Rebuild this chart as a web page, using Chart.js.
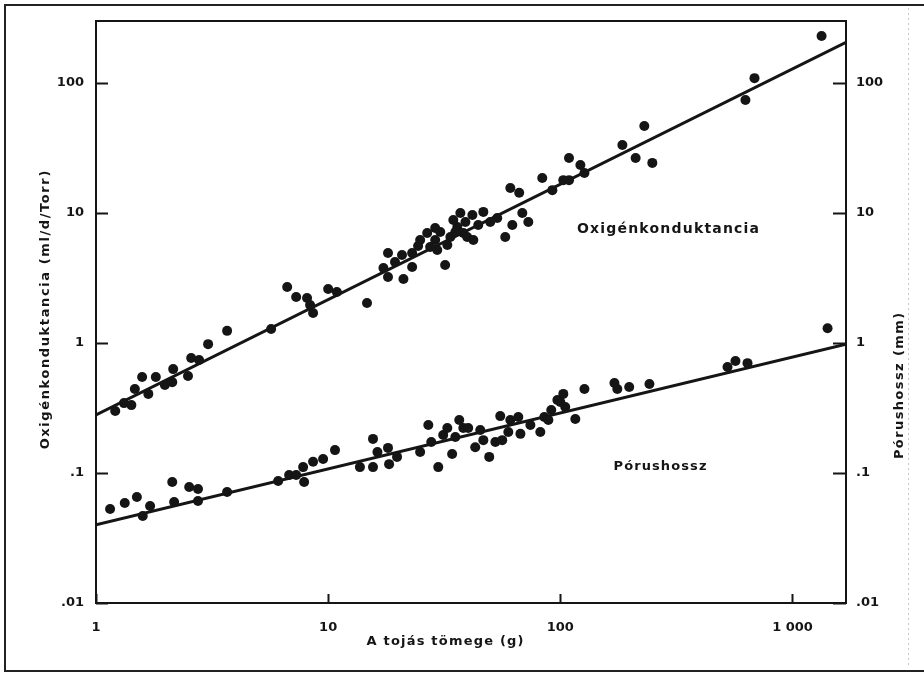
<!DOCTYPE html>
<html>
<head>
<meta charset="utf-8">
<script src="https://cdn.jsdelivr.net/npm/chart.js@4"></script>
<style>
  html, body { margin: 0; padding: 0; background: #fff; }
  canvas { display: block; }
</style>
</head>
<body>
<canvas id="c" width="924" height="674"></canvas>
<script>
// ---- tick labels ----
const xTickValues = [1, 10, 100, 1000];
const xTickLabels = ['1', '10', '100', '1 000'];
const yTickValues = [0.01, 0.1, 1, 10, 100];
const yTickLabels = ['.01', '.1', '1', '10', '100'];

// ---- Oxigénkonduktancia (ml/d/Torr) vs egg mass (g) ----
const oxygenMass = [1.21,1.32,1.42,1.47,1.58,1.68,1.81,1.98,2.13,2.15,2.49,2.57,2.78,3.04,3.67,5.68,6.66,7.28,8.11,8.61,8.36,10.0,10.9,14.7,17.3,18.1,18.1,20.8,21.1,23.0,23.0,26.7,27.5,29.5,30.4,31.9,33.6,36.0,37.1,38.2,39.7,41.8,42.2,46.6,53.5,57.9,60.9,62.1,66.5,68.6,72.8,83.6,92.4,103,109,109,122,127,185,211,230,249,627,686,1334,24.4,34.6,44.3,49.9,28.9,19.4,24.9,32.6,35.3,39.0,28.9];
const oxygenConductance = [0.30,0.345,0.333,0.443,0.547,0.406,0.547,0.475,0.50,0.63,0.557,0.767,0.74,0.98,1.24,1.28,2.70,2.26,2.22,1.70,1.96,2.60,2.47,2.03,3.78,4.92,3.22,4.75,3.11,4.92,3.84,7.02,5.47,5.19,7.14,3.98,6.53,7.80,10.0,7.02,6.53,9.66,6.20,10.2,9.16,6.53,15.6,8.09,14.3,10.0,8.53,18.6,15.0,17.9,26.5,17.9,23.4,20.3,33.4,26.5,46.7,24.3,74.0,109,230,5.57,8.83,8.09,8.53,6.2,4.2,6.2,5.68,7.14,8.53,7.67];

// ---- Pórushossz (mm) vs egg mass (g) ----
const poreMass = [1.15,1.33,1.50,1.59,1.71,2.13,2.17,2.52,2.75,2.75,3.67,6.09,6.79,7.28,7.80,7.88,8.61,9.51,10.7,13.7,15.6,15.6,16.3,18.1,18.3,19.8,24.9,27.0,27.8,29.8,31.3,32.6,34.2,36.7,38.2,40.1,43.0,46.6,49.4,52.5,55.1,56.2,60.9,65.9,67.3,82.0,85.3,91.4,97.1,100,103,105,116,127,171,176,198,242,525,568,640,1416,45.2,59.7,35.3,74.3,88.8];
const poreLength = [0.0528,0.0588,0.0654,0.0467,0.0557,0.0853,0.0598,0.078,0.0753,0.061,0.0714,0.0867,0.0966,0.0966,0.111,0.0853,0.122,0.128,0.150,0.111,0.183,0.111,0.145,0.156,0.117,0.133,0.145,0.234,0.173,0.111,0.196,0.222,0.140,0.256,0.222,0.222,0.158,0.179,0.133,0.173,0.274,0.179,0.256,0.270,0.20,0.207,0.270,0.305,0.365,0.352,0.406,0.322,0.260,0.443,0.492,0.443,0.459,0.484,0.653,0.728,0.70,1.30,0.214,0.207,0.189,0.234,0.256];

// ---- regression lines (end points) ----
const fitMass = [1, 1700];
const oxygenFit = [0.28, 206];
const poreFit = [0.040, 0.98];

// ---- axis range ----
const xMin = 1, xMax = 1700;
const yMin = 0.01, yMax = 300;

const zip = (xs, ys) => xs.map((x, i) => ({ x: x, y: ys[i] }));
const INK = '#151515';
const FONT = '"DejaVu Sans", "Liberation Sans", sans-serif';

function tickLabel(values, labels) {
  return function (v) {
    const i = values.findIndex(t => Math.abs(t - v) / t < 1e-6);
    return i >= 0 ? labels[i] : '';
  };
}

function spacedText(ctx, text, x, y, font, spacing) {
  ctx.font = font;
  if ('letterSpacing' in ctx) {
    ctx.letterSpacing = spacing + 'px';
    ctx.fillText(text, x + spacing / 2, y);
    ctx.letterSpacing = '0px';
  } else {
    ctx.fillText(text, x, y);
  }
}

const framePlugin = {
  id: 'frame',
  afterDraw(chart) {
    const ctx = chart.ctx;
    const a = chart.chartArea;
    ctx.save();
    // outer page frame
    ctx.strokeStyle = '#222';
    ctx.lineWidth = 2;
    ctx.beginPath();
    ctx.moveTo(924, 5); ctx.lineTo(5, 5); ctx.lineTo(5, 671); ctx.lineTo(924, 671);
    ctx.stroke();
    ctx.strokeStyle = '#c8c8c8';
    ctx.lineWidth = 1;
    ctx.setLineDash([2, 3]);
    ctx.beginPath(); ctx.moveTo(908.5, 8); ctx.lineTo(908.5, 668); ctx.stroke();
    ctx.setLineDash([]);

    // plot box
    ctx.strokeStyle = INK;
    ctx.lineWidth = 2;
    ctx.strokeRect(a.left, a.top, a.right - a.left, a.bottom - a.top);

    // inward tick marks
    const sx = chart.scales.x, sy = chart.scales.y, sy2 = chart.scales.y2;
    ctx.beginPath();
    xTickValues.forEach(v => {
      const p = Math.round(sx.getPixelForValue(v)) + 0.5;
      ctx.moveTo(p, a.bottom); ctx.lineTo(p, a.bottom - 9);
    });
    yTickValues.forEach(v => {
      const p = Math.round(sy.getPixelForValue(v)) + 0.5;
      ctx.moveTo(a.left, p); ctx.lineTo(a.left + 12, p);
      const q = Math.round(sy2.getPixelForValue(v)) + 0.5;
      ctx.moveTo(a.right, q); ctx.lineTo(a.right - 13, q);
    });
    ctx.stroke();

    // titles
    ctx.fillStyle = INK;
    ctx.textAlign = 'center';
    ctx.textBaseline = 'middle';
    spacedText(ctx, 'A tojás tömege (g)', 445, 642, 'bold 13px ' + FONT, 1.2);

    ctx.save();
    ctx.translate(46, 310);
    ctx.rotate(-Math.PI / 2);
    spacedText(ctx, 'Oxigénkonduktancia (ml/d/Torr)', 0, 0, 'bold 13px ' + FONT, 1.6);
    ctx.restore();

    ctx.save();
    ctx.translate(900, 386);
    ctx.rotate(-Math.PI / 2);
    spacedText(ctx, 'Pórushossz (mm)', 0, 0, 'bold 13px ' + FONT, 1.4);
    ctx.restore();

    // series annotations
    spacedText(ctx, 'Oxigénkonduktancia', 668, 229, 'bold 14px ' + FONT, 1.2);
    spacedText(ctx, 'Pórushossz', 660, 467, 'bold 13px ' + FONT, 1.1);
    ctx.restore();
  }
};

const tickFont = { family: FONT, size: 13, weight: 'bold' };

new Chart(document.getElementById('c'), {
  type: 'scatter',
  data: {
    datasets: [
      { label: 'Oxigénkonduktancia', data: zip(oxygenMass, oxygenConductance), yAxisID: 'y',
        backgroundColor: INK, borderColor: INK, pointRadius: 5, pointBorderWidth: 0, order: 1 },
      { label: 'Oxigénkonduktancia – illesztés', type: 'line', data: zip(fitMass, oxygenFit), yAxisID: 'y',
        borderColor: INK, borderWidth: 3, pointRadius: 0, fill: false, tension: 0, order: 2 },
      { label: 'Pórushossz', data: zip(poreMass, poreLength), yAxisID: 'y2',
        backgroundColor: INK, borderColor: INK, pointRadius: 5, pointBorderWidth: 0, order: 1 },
      { label: 'Pórushossz – illesztés', type: 'line', data: zip(fitMass, poreFit), yAxisID: 'y2',
        borderColor: INK, borderWidth: 3, pointRadius: 0, fill: false, tension: 0, order: 2 }
    ]
  },
  options: {
    responsive: false,
    animation: false,
    layout: { padding: { top: 21, left: 0, right: 0, bottom: 0 } },
    plugins: { legend: { display: false }, tooltip: { enabled: false } },
    scales: {
      x: {
        type: 'logarithmic', position: 'bottom', min: xMin, max: xMax,
        afterBuildTicks: s => { s.ticks = xTickValues.map(v => ({ value: v })); },
        afterFit: s => { s.height = 71; },
        ticks: { callback: tickLabel(xTickValues, xTickLabels), font: tickFont, color: INK,
                 padding: 9, autoSkip: false, maxRotation: 0 },
        grid: { display: false }, border: { display: false }
      },
      y: {
        type: 'logarithmic', position: 'left', min: yMin, max: yMax,
        afterBuildTicks: s => { s.ticks = yTickValues.map(v => ({ value: v })); },
        afterFit: s => { s.width = 96; },
        ticks: { callback: tickLabel(yTickValues, yTickLabels), font: tickFont, color: INK,
                 padding: 4, autoSkip: false },
        grid: { display: false }, border: { display: false }
      },
      y2: {
        type: 'logarithmic', position: 'right', min: yMin, max: yMax,
        afterBuildTicks: s => { s.ticks = yTickValues.map(v => ({ value: v })); },
        afterFit: s => { s.width = 78; },
        ticks: { callback: tickLabel(yTickValues, yTickLabels), font: tickFont, color: INK,
                 padding: 2, autoSkip: false },
        grid: { display: false }, border: { display: false }
      }
    }
  },
  plugins: [framePlugin]
});
</script>
</body>
</html>
